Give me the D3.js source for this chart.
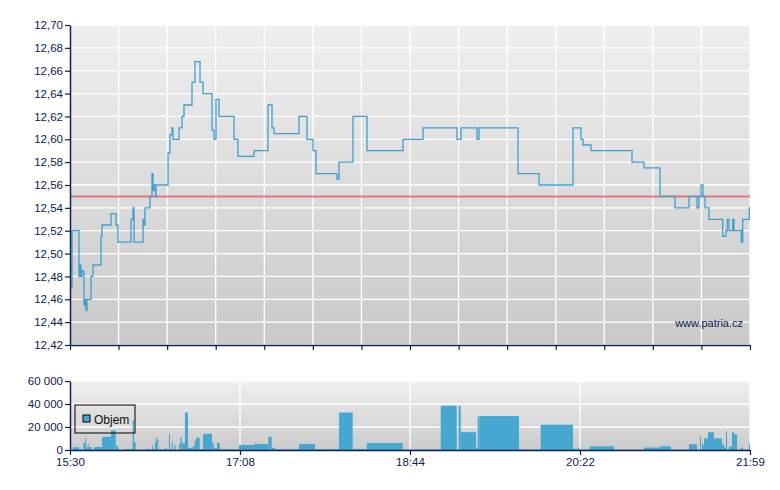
<!DOCTYPE html>
<html>
<head>
<meta charset="utf-8">
<script src="https://cdnjs.cloudflare.com/ajax/libs/d3/7.8.5/d3.min.js"></script>
<style>
  body { margin: 0; background: #fff; }
  svg { display: block; font-family: "Liberation Sans", Arial, sans-serif; }
</style>
</head>
<body>
<svg id="chart" width="780" height="490"></svg>
<script>
// Intraday price + volume, 15:30 - 21:59 session.

const sessionStart = "15:30:00";
const sessionEnd = "21:59:00";
const refPrice = 12.55;

const priceTimes = [
  "15:30:00", "15:31:09", "15:35:09", "15:35:43", "15:36:17", "15:36:52", "15:38:00", "15:38:35",
  "15:39:09", "15:39:44", "15:42:01", "15:43:09", "15:47:44", "15:48:18", "15:53:27", "15:56:19",
  "15:57:27", "16:04:54", "16:06:02", "16:06:37", "16:11:46", "16:12:20", "16:12:54", "16:15:46",
  "16:16:55", "16:17:29", "16:18:03", "16:18:55", "16:19:12", "16:26:04", "16:27:12", "16:28:21",
  "16:28:55", "16:32:21", "16:34:04", "16:35:13", "16:39:47", "16:41:31", "16:44:22", "16:46:05",
  "16:51:14", "16:52:23", "16:53:31", "16:55:14", "17:03:49", "17:06:06", "17:15:16", "17:23:16",
  "17:25:33", "17:26:42", "17:41:00", "17:45:35", "17:49:01", "17:50:44", "18:02:44", "18:03:53",
  "18:11:54", "18:19:54", "18:40:30", "18:51:56", "19:11:23", "19:13:40", "19:22:49", "19:23:58",
  "19:46:17", "19:58:18", "20:17:45", "20:22:19", "20:23:28", "20:28:03", "20:51:30", "20:58:22",
  "21:07:31", "21:16:06", "21:24:07", "21:28:41", "21:29:50", "21:30:58", "21:32:07", "21:33:16",
  "21:35:33", "21:43:24", "21:45:16", "21:46:00", "21:46:59", "21:49:06", "21:49:51", "21:54:01",
  "21:54:49", "21:58:36", "21:59:00"
];
const priceValues = [
  12.47, 12.52, 12.48, 12.49, 12.48, 12.485, 12.455, 12.46,
  12.45, 12.46, 12.48, 12.49, 12.515, 12.525, 12.535, 12.525,
  12.51, 12.53, 12.54, 12.51, 12.53, 12.525, 12.54, 12.55,
  12.57, 12.555, 12.56, 12.55, 12.56, 12.588, 12.604, 12.61,
  12.60, 12.61, 12.62, 12.63, 12.65, 12.668, 12.65, 12.64,
  12.608, 12.60, 12.635, 12.62, 12.60, 12.585, 12.59, 12.63,
  12.61, 12.605, 12.62, 12.60, 12.59, 12.57, 12.565, 12.58,
  12.62, 12.59, 12.60, 12.61, 12.60, 12.61, 12.60, 12.61,
  12.57, 12.56, 12.61, 12.60, 12.595, 12.59, 12.58, 12.575,
  12.55, 12.54, 12.55, 12.54, 12.55, 12.56, 12.55, 12.54,
  12.53, 12.515, 12.52, 12.53, 12.52, 12.53, 12.52, 12.51,
  12.53, 12.54, 12.54
];

const volTimes = [
  "15:31:33", "15:35:09", "15:36:17", "15:37:37", "15:38:35", "15:39:09", "15:40:08", "15:40:42",
  "15:42:11", "15:43:44", "15:48:18", "15:53:27", "15:56:09", "15:57:27", "15:58:02", "16:02:02",
  "16:05:52", "16:06:37", "16:07:35", "16:13:18", "16:15:46", "16:16:55", "16:17:29", "16:18:38",
  "16:19:12", "16:19:57", "16:20:31", "16:23:22", "16:24:31", "16:25:19", "16:26:38", "16:27:12",
  "16:28:11", "16:28:45", "16:29:40", "16:30:28", "16:32:21", "16:33:06", "16:33:54", "16:34:39",
  "16:35:47", "16:37:30", "16:40:11", "16:41:20", "16:42:05", "16:44:12", "16:46:05", "16:51:14",
  "16:52:12", "16:54:05", "16:55:38", "17:06:41", "17:15:16", "17:23:26", "17:25:23", "17:27:16",
  "17:41:00", "17:50:09", "18:03:53", "18:11:43", "18:19:44", "18:40:19", "19:02:04", "19:11:13",
  "19:12:22", "19:13:31", "19:22:16", "19:23:14", "19:24:09", "19:46:51", "19:59:16", "20:17:45",
  "20:22:09", "20:26:20", "20:27:28", "20:41:12", "20:58:22", "21:07:31", "21:13:49", "21:24:07",
  "21:28:41", "21:30:24", "21:30:58", "21:31:32", "21:32:07", "21:32:41", "21:34:58", "21:38:24",
  "21:42:59", "21:44:07", "21:45:16", "21:45:50", "21:46:59", "21:48:42", "21:49:51", "21:51:34",
  "21:53:51", "21:54:59", "21:58:26"
];
const volValues = [
  2400, 900, 300, 5900, 10300, 2400, 5600, 2600,
  600, 2600, 11500, 17000, 3800, 1500, 300, 900,
  25900, 6800, 300, 900, 300, 4400, 900, 7100,
  10600, 8800, 500, 900, 1800, 300, 14100, 600,
  7100, 600, 4100, 300, 5300, 10600, 6200, 5900,
  32600, 1800, 3500, 8200, 10600, 600, 14100, 6200,
  1500, 6200, 600, 4400, 5300, 11500, 1800, 600,
  5300, 600, 32600, 900, 6000, 400, 38500, 500,
  38500, 15500, 1800, 29000, 29500, 500, 22000, 1200,
  300, 600, 3200, 300, 2100, 3200, 300, 5000,
  300, 11900, 300, 6000, 4200, 10100, 15500, 10100,
  4800, 2100, 16400, 300, 3000, 15500, 13700, 300,
  2100, 300, 5700
];

const priceTicks = [12.42, 12.44, 12.46, 12.48, 12.50, 12.52, 12.54, 12.56, 12.58, 12.60, 12.62, 12.64, 12.66, 12.68, 12.70];
const volTicks = [0, 20000, 40000, 60000];
const timeLabels = ["15:30", "17:08", "18:44", "20:22", "21:59"];

function drawChart() {
  const svg = d3.select("#chart");
  const navy = "#0b2252";
  const lineBlue = "#3f9fcf";
  const barBlue = "#46a8d0";

  const parse = d3.timeParse("%H:%M:%S");
  const locale = d3.formatLocale({ decimal: ",", thousands: " ", grouping: [3], currency: ["", ""] });
  const fmtPrice = locale.format(".2f");
  const fmtVol = locale.format(",d");

  const plotLeft = 70, plotRight = 750;
  const priceTop = 25, priceBottom = 345;
  const volTop = 381, volBottom = 450;

  const t0 = parse(sessionStart), t1 = parse(sessionEnd);
  const x = d3.scaleTime().domain([t0, t1]).range([plotLeft, plotRight]);
  const yP = d3.scaleLinear().domain([priceTicks[0], priceTicks[priceTicks.length - 1]]).range([priceBottom, priceTop]);
  const yV = d3.scaleLinear().domain([0, volTicks[volTicks.length - 1]]).range([volBottom, volTop]);

  const split = n => d3.range(n + 1).map(i => new Date(+t0 + i * (t1 - t0) / n));
  const priceGridTimes = split(14);
  const volGridTimes = split(timeLabels.length - 1);

  // background gradients
  const defs = svg.append("defs");
  [["gP", "#efefef", "#c9c9c9"], ["gV", "#efefef", "#cbcbcb"]].forEach(([id, c0, c1]) => {
    const g = defs.append("linearGradient").attr("id", id).attr("x1", 0).attr("y1", 0).attr("x2", 0).attr("y2", 1);
    g.append("stop").attr("offset", "0%").attr("stop-color", c0);
    g.append("stop").attr("offset", "100%").attr("stop-color", c1);
  });

  svg.append("rect")
    .attr("x", plotLeft).attr("y", priceTop)
    .attr("width", plotRight - plotLeft).attr("height", priceBottom - priceTop)
    .attr("fill", "url(#gP)");
  svg.append("rect")
    .attr("x", plotLeft).attr("y", volTop)
    .attr("width", plotRight - plotLeft).attr("height", volBottom - volTop)
    .attr("fill", "url(#gV)");

  // price grid
  const gridP = svg.append("g").attr("stroke", "#fff").attr("stroke-width", 1.3);
  gridP.selectAll(".h").data(priceTicks).join("line")
    .attr("x1", plotLeft).attr("x2", plotRight)
    .attr("y1", d => yP(d)).attr("y2", d => yP(d));
  gridP.selectAll(".v").data(priceGridTimes.slice(1)).join("line")
    .attr("x1", d => x(d)).attr("x2", d => x(d))
    .attr("y1", priceTop).attr("y2", priceBottom);

  // volume grid
  const gridV = svg.append("g").attr("stroke", "#fff").attr("stroke-width", 1.3);
  gridV.selectAll(".h").data(volTicks.slice(1)).join("line")
    .attr("x1", plotLeft).attr("x2", plotRight)
    .attr("y1", d => yV(d)).attr("y2", d => yV(d));
  gridV.selectAll(".v").data(volGridTimes.slice(1)).join("line")
    .attr("x1", d => x(d)).attr("x2", d => x(d))
    .attr("y1", volTop).attr("y2", volBottom);

  // reference line
  svg.append("line")
    .attr("x1", plotLeft).attr("x2", plotRight)
    .attr("y1", yP(refPrice)).attr("y2", yP(refPrice))
    .attr("stroke", "#e07a7a").attr("stroke-width", 2);

  // price line
  const priceData = priceTimes.map((t, i) => ({ t: parse(t), v: priceValues[i] }));
  svg.append("path")
    .datum(priceData)
    .attr("fill", "none")
    .attr("stroke", lineBlue)
    .attr("stroke-width", 1.3)
    .attr("d", d3.line().x(d => x(d.t)).y(d => yP(d.v)).curve(d3.curveStepAfter));

  // volume bars, each spans until the next trade
  const volData = volTimes.map((t, i) => ({
    t: parse(t),
    end: i + 1 < volTimes.length ? parse(volTimes[i + 1]) : t1,
    v: volValues[i]
  }));
  svg.append("g").selectAll("rect").data(volData).join("rect")
    .attr("x", d => x(d.t))
    .attr("width", d => Math.max(1, x(d.end) - x(d.t)))
    .attr("y", d => yV(d.v))
    .attr("height", d => volBottom - yV(d.v))
    .attr("fill", barBlue);

  // axes
  const styleAxis = g => {
    g.selectAll(".domain").attr("stroke", navy).attr("stroke-width", 1.5);
    g.selectAll(".tick line").attr("stroke", navy).attr("stroke-width", 1.2);
    g.selectAll(".tick text").attr("fill", navy).attr("font-size", 11.5)
      .attr("font-family", "'Liberation Sans', Arial, sans-serif");
  };

  svg.append("g")
    .attr("transform", `translate(${plotLeft},0)`)
    .call(d3.axisLeft(yP).tickValues(priceTicks).tickFormat(fmtPrice).tickSize(5).tickSizeOuter(0).tickPadding(2))
    .call(styleAxis);

  svg.append("g")
    .attr("transform", `translate(0,${priceBottom})`)
    .call(d3.axisBottom(x).tickValues(priceGridTimes).tickFormat("").tickSize(5).tickSizeOuter(0))
    .call(styleAxis);

  svg.append("g")
    .attr("transform", `translate(${plotLeft},0)`)
    .call(d3.axisLeft(yV).tickValues(volTicks).tickFormat(fmtVol).tickSize(5).tickSizeOuter(0).tickPadding(2))
    .call(styleAxis);

  svg.append("g")
    .attr("transform", `translate(0,${volBottom})`)
    .call(d3.axisBottom(x).tickValues(volGridTimes).tickFormat((d, i) => timeLabels[i]).tickSize(5).tickSizeOuter(0).tickPadding(3))
    .call(styleAxis);

  // legend
  const lg = svg.append("g").attr("transform", "translate(75,405)");
  lg.append("rect").attr("width", 60).attr("height", 28)
    .attr("fill", "none").attr("stroke", "#000").attr("stroke-width", 1);
  lg.append("rect").attr("x", 8).attr("y", 10).attr("width", 7).attr("height", 7)
    .attr("fill", barBlue).attr("stroke", "#000").attr("stroke-width", 1);
  lg.append("text").attr("x", 19).attr("y", 18.5)
    .attr("font-size", 12).attr("fill", "#111").text("Objem");

  // watermark
  svg.append("text")
    .attr("x", 743).attr("y", 327)
    .attr("text-anchor", "end")
    .attr("font-size", 11)
    .attr("fill", navy)
    .text("www.patria.cz");
}

drawChart();
</script>
</body>
</html>
